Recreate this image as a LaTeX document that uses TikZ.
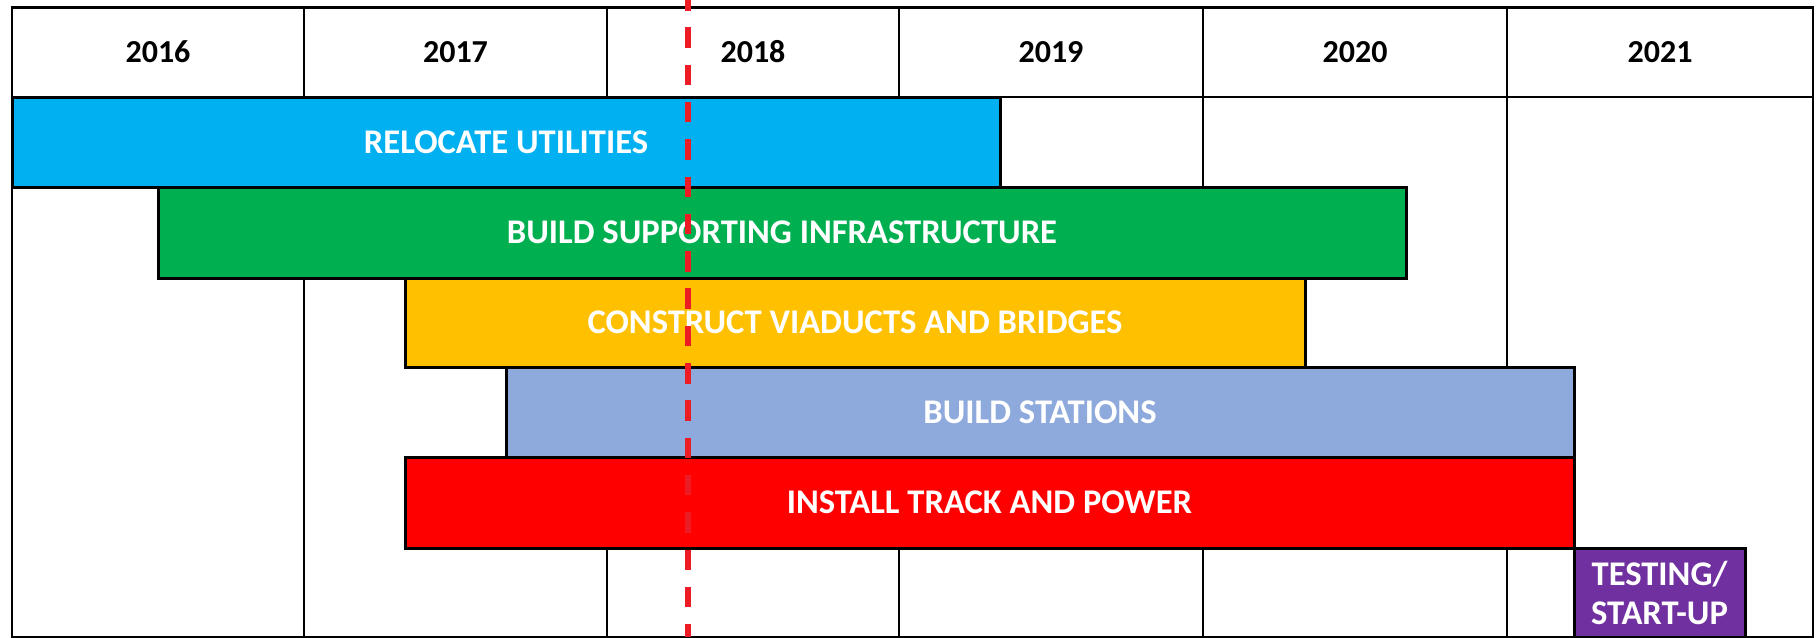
\documentclass[tikz,border=0pt]{standalone}
\usepackage{fontspec}
\setmainfont{Carlito}
\definecolor{utilcyan}{RGB}{0,176,240}
\definecolor{infragreen}{RGB}{0,176,80}
\definecolor{viagold}{RGB}{255,192,0}
\definecolor{stationblue}{RGB}{142,169,219}
\definecolor{trackred}{RGB}{255,0,0}
\definecolor{testpurple}{RGB}{112,48,160}
\definecolor{nowred}{RGB}{237,28,36}
\begin{document}
\begin{tikzpicture}[x=0.5pt, y=-0.5pt,
    gridline/.style={line width=1.4pt, black},
    bar/.style={line width=1.5pt, draw=black},
    yearlabel/.style={font=\fontsize{16}{19}\selectfont\bfseries, text=black},
    barlabel/.style={font=\fontsize{17.3}{19.5}\selectfont\bfseries, text=white, align=center},
    nowline/.style={line width=2.75pt, nowred, dash pattern=on 10.25pt off 8.4pt, dash phase=5pt}]
 \useasboundingbox (0,0) rectangle (1819,637);
 % table
 \draw[gridline] (12,7.5) rectangle (1813,637);
 \draw[gridline] (12,97) -- (1813,97);
 \foreach \xx in {304,607,899,1203,1507}
   \draw[gridline] (\xx,7.5) -- (\xx,637);
 \foreach \xa/\xb/\yr in {12/304/2016, 304/607/2017, 607/899/2018, 899/1203/2019, 1203/1507/2020, 1507/1813/2021}
   \node[yearlabel] (y\yr) at ({(\xa+\xb)/2},52) {\yr};

 % bars
 \filldraw[bar, fill=utilcyan] (12,97) rectangle (1000,187)
   node[midway, barlabel] (relocate) {RELOCATE UTILITIES};
 \filldraw[bar, fill=infragreen] (158,187) rectangle (1406,278)
   node[midway, barlabel] (infra) {BUILD SUPPORTING INFRASTRUCTURE};
 \filldraw[bar, fill=viagold] (405,278) rectangle (1305,367)
   node[midway, barlabel] (viaducts) {CONSTRUCT VIADUCTS AND BRIDGES};
 \filldraw[bar, fill=stationblue] (506,367) rectangle (1574,457)
   node[midway, barlabel] (stations) {BUILD STATIONS};
 \filldraw[bar, fill=trackred] (405,457) rectangle (1574,548)
   node[midway, barlabel] (track) {INSTALL TRACK AND POWER};
 \filldraw[bar, fill=testpurple] (1574,548) rectangle (1745,637)
   node[midway, barlabel] (testing) {TESTING/\\START-UP};

 % today
 \coordinate (nowtop) at (688,0);
 \coordinate (nowbot) at (688,637);
 \draw[nowline] (nowtop) -- (nowbot);
\end{tikzpicture}
\end{document}
